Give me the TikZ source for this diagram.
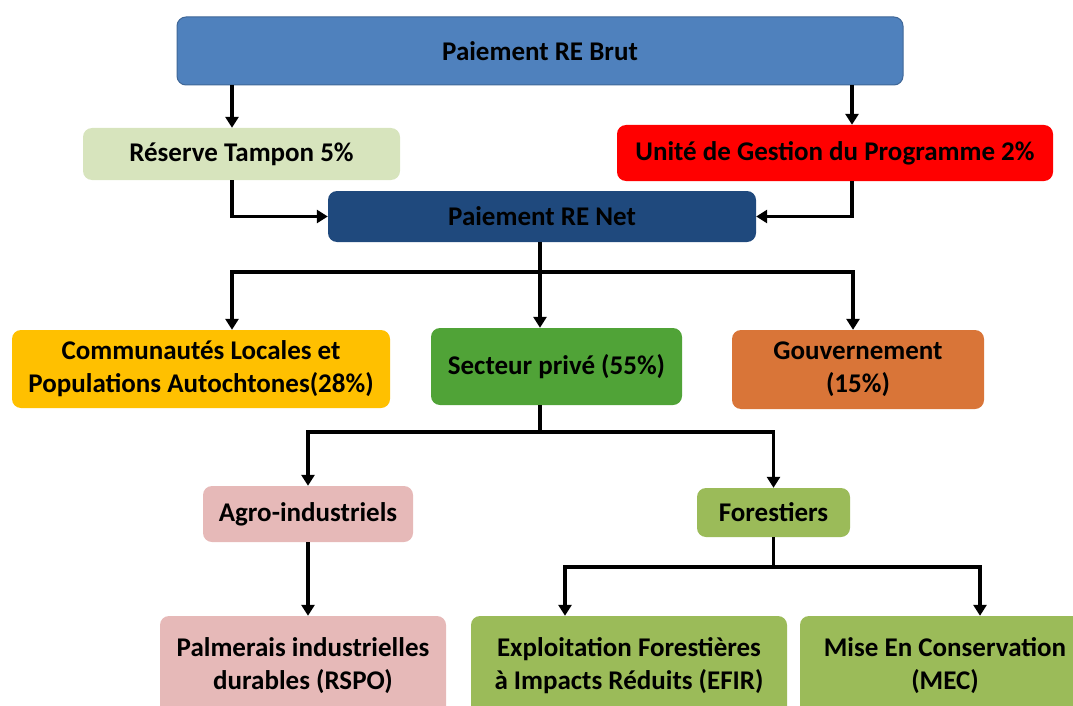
\documentclass[tikz,border=0pt]{standalone}
\usepackage{fontspec}
\setmainfont{Carlito}
\usepackage{xcolor}
\usepackage{tikz}
\usetikzlibrary{arrows.meta, positioning, calc}
\definecolor{brutblue}{RGB}{79, 129, 189}
\definecolor{netblue}{RGB}{31, 73, 125}
\definecolor{tampongreen}{RGB}{215, 228, 189}
\definecolor{ugpred}{RGB}{255, 0, 0}
\definecolor{clpagold}{RGB}{255, 192, 0}
\definecolor{privegreen}{RGB}{80, 163, 55}
\definecolor{gouvorange}{RGB}{217, 117, 56}
\definecolor{agropink}{RGB}{230, 185, 184}
\definecolor{forestgreen}{RGB}{155, 187, 89}

\begin{document}
\begin{tikzpicture}[x=1pt, y=-1pt,
    box/.style={rounded corners=9pt, align=center, inner sep=0pt, text=black,
        font=\fontsize{27}{33}\selectfont\bfseries},
    arr/.style={-{Triangle[length=11pt, width=13pt]}, line width=3.2pt, black},
    link/.style={line width=3.2pt, black}]
    \useasboundingbox (0,0) rectangle (1073,706);

    % Top level
    \node[box, fill=brutblue, draw=brutblue!80!black, line width=1pt,
        minimum width=726pt, minimum height=68pt] (brut) at (540,51) {Paiement RE Brut};
    \node[box, fill=tampongreen, minimum width=317pt, minimum height=52pt] (tampon) at (241.5,154) {Réserve Tampon 5\%};
    \node[box, fill=ugpred, minimum width=436pt, minimum height=56pt] (ugp) at (835,153) {Unité de Gestion du Programme 2\%};
    \node[box, fill=netblue, minimum width=428pt, minimum height=51pt] (net) at (542,216.5) {Paiement RE Net};

    % Beneficiaries
    \node[box, fill=clpagold, minimum width=378pt, minimum height=78pt] (clpa) at (201,369) {Communautés Locales et\\Populations Autochtones(28\%)};
    \node[box, fill=privegreen, minimum width=251pt, minimum height=77pt] (prive) at (556.5,366.5) {Secteur privé (55\%)};
    \node[box, fill=gouvorange, minimum width=252pt, minimum height=79pt] (gouv) at (858,369.5) {Gouvernement\\(15\%)};

    % Private sector
    \node[box, fill=agropink, minimum width=210pt, minimum height=56pt] (agro) at (308,514) {Agro-industriels};
    \node[box, fill=forestgreen, minimum width=153pt, minimum height=49pt] (forest) at (773.5,512.5) {Forestiers};

    \node[box, fill=agropink, minimum width=286pt, minimum height=100pt] (palm) at (303,666) {Palmerais industrielles\\durables (RSPO)};
    \node[box, fill=forestgreen, minimum width=316pt, minimum height=100pt] (efir) at (629,666) {Exploitation Forestières\\à Impacts Réduits (EFIR)};
    \node[box, fill=forestgreen, minimum width=290pt, minimum height=100pt] (mec) at (945,666) {Mise En Conservation\\(MEC)};

    % Drop points
    \coordinate (tamponIn) at ([xshift=-9.5pt]tampon.north);
    \coordinate (ugpIn) at ([xshift=17pt]ugp.north);
    \coordinate (clpaIn) at ([xshift=31pt]clpa.north);
    \coordinate (priveIn) at ([xshift=-16.5pt]prive.north);
    \coordinate (gouvIn) at ([xshift=-5pt]gouv.north);
    \coordinate (efirIn) at ([xshift=-64pt]efir.north);
    \coordinate (mecIn) at ([xshift=35pt]mec.north);
    \coordinate (netBar) at (540,272);
    \coordinate (priveBar) at (540,432);
    \coordinate (forestBar) at (773.5,567);

    % Deductions
    \draw[arr] (tamponIn |- brut.south) -- (tamponIn);
    \draw[arr] (ugpIn |- brut.south) -- (ugpIn);
    \draw[arr] (tamponIn |- tampon.south) |- (net.west);
    \draw[arr] (ugpIn |- ugp.south) |- (net.east);

    % Distribution
    \draw[link] (netBar |- net.south) -- (netBar);
    \draw[arr] (netBar) -| (clpaIn);
    \draw[arr] (netBar) -| (gouvIn);
    \draw[arr] (netBar) -- (priveIn);

    \draw[link] (priveBar |- prive.south) -- (priveBar);
    \draw[arr] (priveBar) -| (agro.north);
    \draw[arr] (priveBar) -| (forest.north);
    \draw[arr] (agro.south) -- (agro.south |- palm.north);

    \draw[link] (forest.south) -- (forestBar);
    \draw[arr] (forestBar) -| (efirIn);
    \draw[arr] (forestBar) -| (mecIn);
\end{tikzpicture}
\end{document}
